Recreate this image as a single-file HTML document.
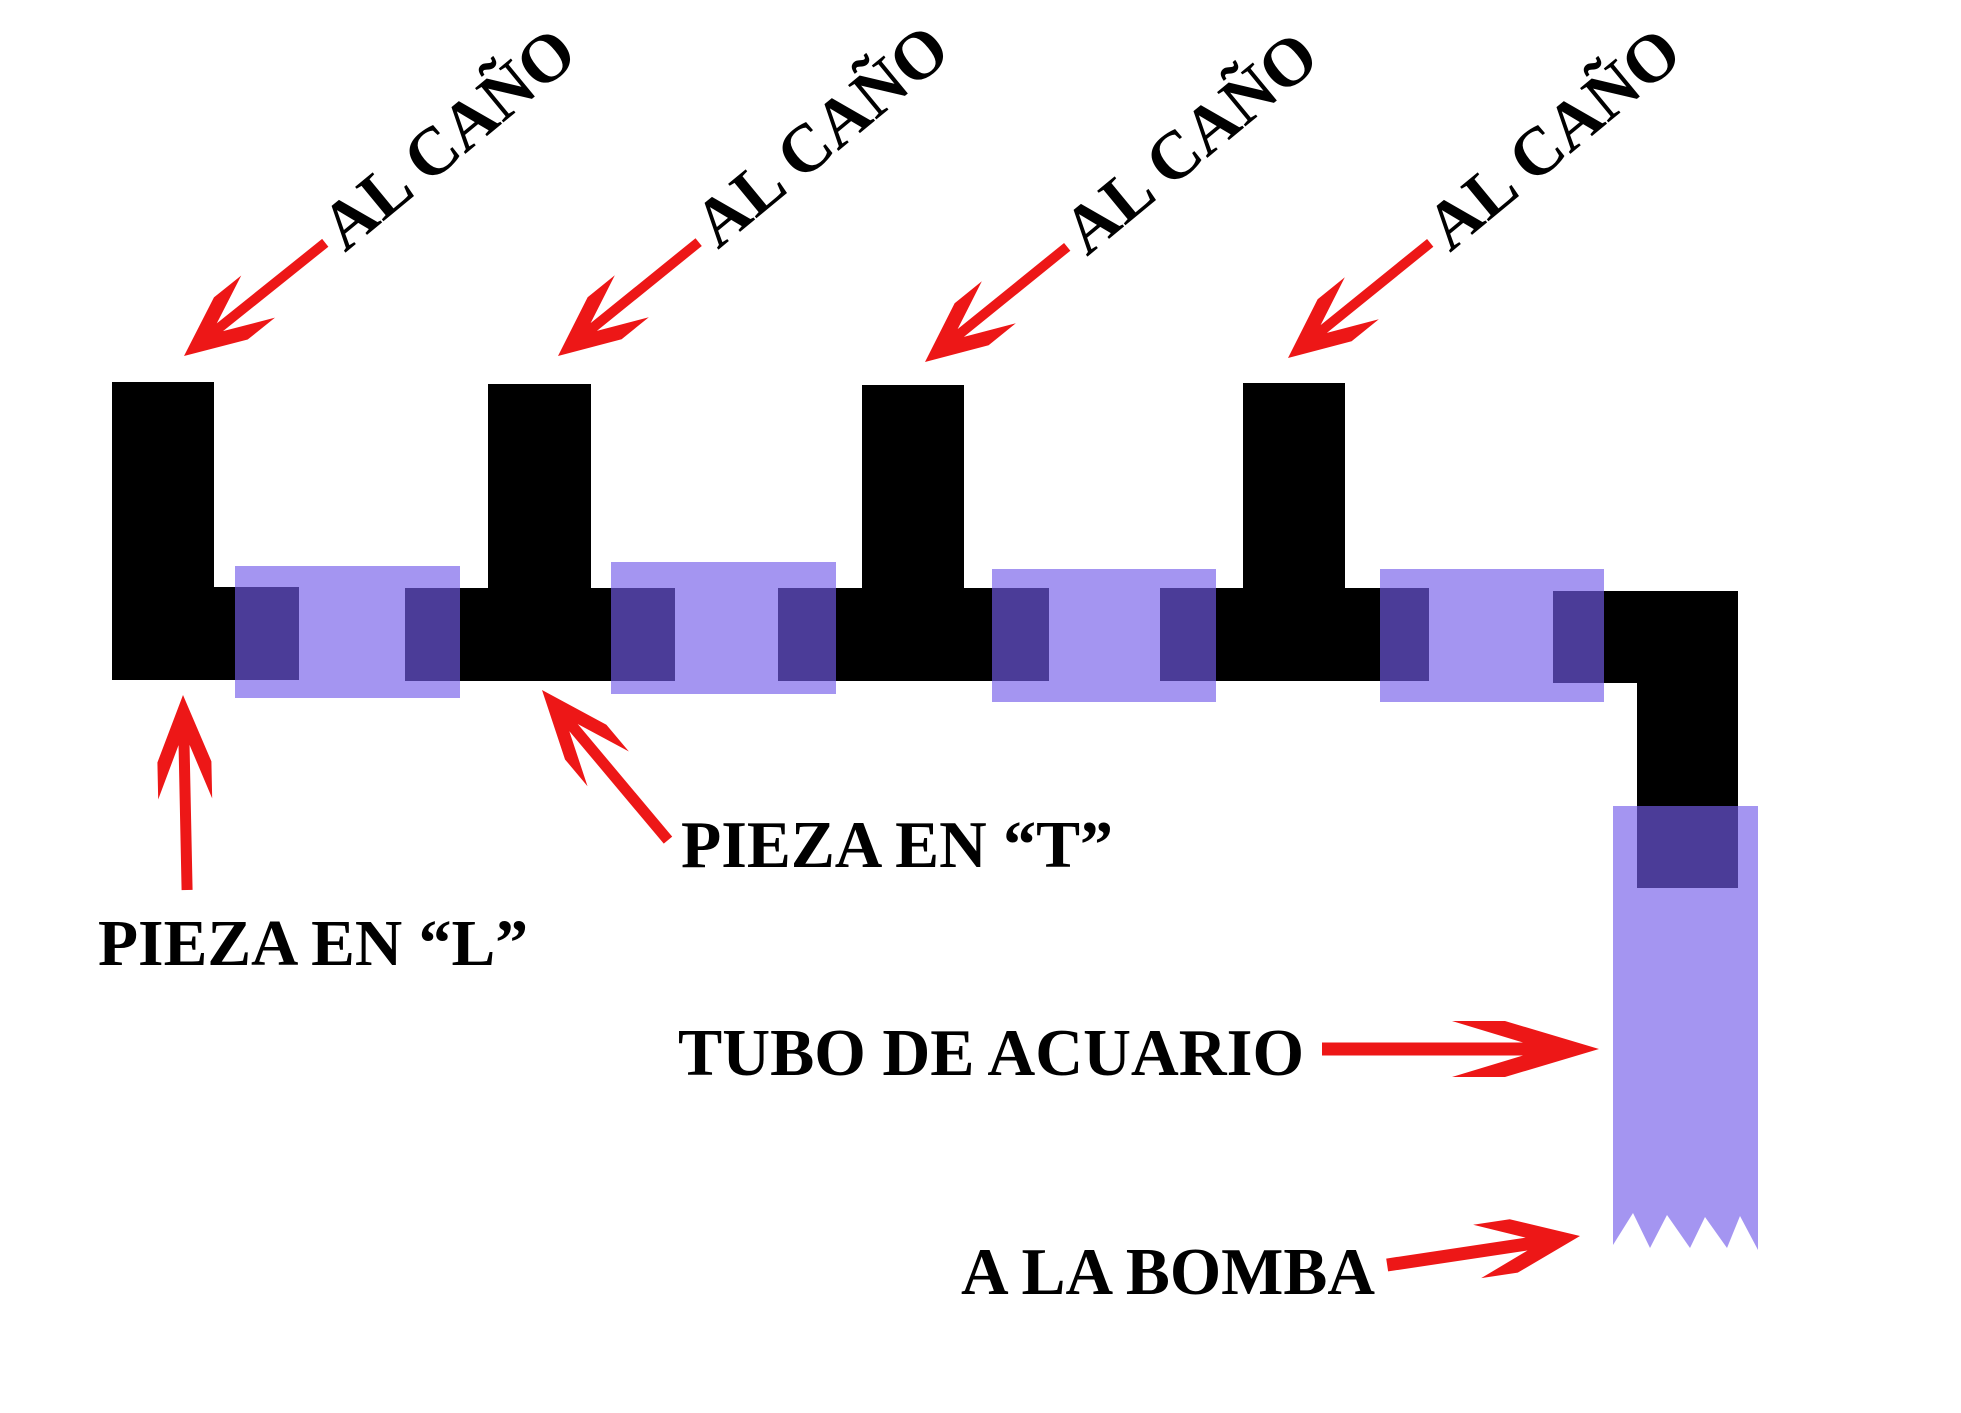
<!DOCTYPE html>
<html>
<head>
<meta charset="utf-8">
<style>
html,body{margin:0;padding:0;background:#fff;}
svg{display:block;}
text{font-family:"Liberation Serif","Times New Roman",serif;font-weight:bold;fill:#000;}
</style>
</head>
<body>
<svg width="1961" height="1413" viewBox="0 0 1961 1413" xmlns="http://www.w3.org/2000/svg">
<rect x="0" y="0" width="1961" height="1413" fill="#fff"/>

<!-- black pipe pieces -->
<g fill="#000">
  <path d="M112,382 H214 V587 H299 V680 H112 Z"/>
  <path d="M488,384 H591 V588 H675 V681 H405 V588 H488 Z"/>
  <path d="M862,385 H964 V588 H1049 V681 H778 V588 H862 Z"/>
  <path d="M1243,383 H1345 V588 H1429 V681 H1160 V588 H1243 Z"/>
  <path d="M1553,591 H1738 V888 H1637 V683 H1553 Z"/>
</g>

<!-- translucent sleeves -->
<g fill="rgb(115,92,234)" fill-opacity="0.65">
  <rect x="235" y="566" width="225" height="132"/>
  <rect x="611" y="562" width="225" height="132"/>
  <rect x="992" y="569" width="224" height="133"/>
  <rect x="1380" y="569" width="224" height="133"/>
  <polygon points="1613,806 1758,806 1758,1250 1740,1216 1727,1248 1705,1217 1690,1248 1667,1215 1650,1248 1633,1213 1613,1245"/>
</g>

<!-- red arrows -->
<g fill="#ED1717">
  <g transform="translate(184,356) rotate(-38.7)"><polygon points="0,0 60,-27 95,-27 46,-5 181,-5 181,5 46,5 95,27 60,27"/></g>
  <g transform="translate(558,356) rotate(-39)"><polygon points="0,0 60,-27 95,-27 46,-5 181,-5 181,5 46,5 95,27 60,27"/></g>
  <g transform="translate(925,362) rotate(-39)"><polygon points="0,0 60,-27 95,-27 46,-5 183,-5 183,5 46,5 95,27 60,27"/></g>
  <g transform="translate(1288,358) rotate(-39)"><polygon points="0,0 60,-27 95,-27 46,-5 183,-5 183,5 46,5 95,27 60,27"/></g>
  <g transform="translate(183,695) rotate(88.8)"><polygon points="0,0 67,-27 104,-27 50,-5.5 195,-5.5 195,5.5 50,5.5 104,27 67,27"/></g>
  <g transform="translate(542,690) rotate(50)"><polygon points="0,0 68,-27 103,-27 49,-5.5 196,-5.5 196,5.5 49,5.5 103,27 68,27"/></g>
  <g transform="translate(1599,1049) rotate(180)"><polygon points="0,0 94,-28 147,-28 76,-6.5 277,-6.5 277,6.5 76,6.5 147,28 94,28"/></g>
  <g transform="translate(1580,1236) rotate(171.45)"><polygon points="0,0 67,-27 104,-27 54,-6.5 195,-6.5 195,6.5 54,6.5 104,27 67,27"/></g>
</g>

<!-- labels -->
<g transform="translate(345,253) rotate(-39.5)"><text x="0" y="0" font-size="68" textLength="305" lengthAdjust="spacingAndGlyphs">AL CAÑO</text></g>
<g transform="translate(718,250) rotate(-39.5)"><text x="0" y="0" font-size="68" textLength="305" lengthAdjust="spacingAndGlyphs">AL CAÑO</text></g>
<g transform="translate(1087,257) rotate(-39.5)"><text x="0" y="0" font-size="68" textLength="305" lengthAdjust="spacingAndGlyphs">AL CAÑO</text></g>
<g transform="translate(1450,253) rotate(-39.5)"><text x="0" y="0" font-size="68" textLength="305" lengthAdjust="spacingAndGlyphs">AL CAÑO</text></g>

<text x="681" y="867" font-size="67" textLength="432" lengthAdjust="spacingAndGlyphs">PIEZA EN “T”</text>
<text x="98" y="965" font-size="66" textLength="430" lengthAdjust="spacingAndGlyphs">PIEZA EN “L”</text>
<text x="678" y="1075" font-size="67" textLength="626" lengthAdjust="spacingAndGlyphs">TUBO DE ACUARIO</text>
<text x="961" y="1294" font-size="67" textLength="414" lengthAdjust="spacingAndGlyphs">A LA BOMBA</text>
</svg>
</body>
</html>
